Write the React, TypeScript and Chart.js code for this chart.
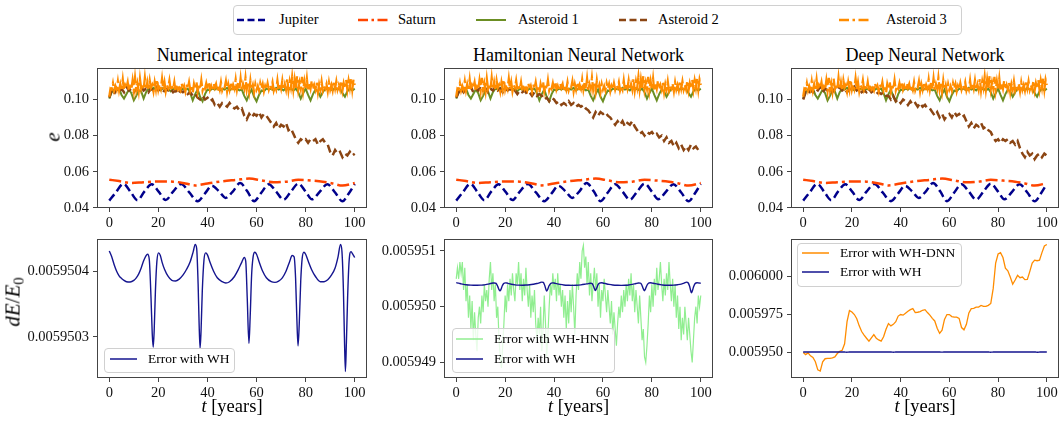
import React, { useEffect, useRef } from 'react';
import { Chart, registerables } from 'chart.js';

Chart.register(...registerables);

const FONT = "'Liberation Serif', 'Times New Roman', serif";
Chart.defaults.font.family = FONT;

// ---------------- data ----------------
const years = [0,1,2,3,4,5,6,7,8,9,10,11,12,13,14,15,16,17,18,19,20,21,22,23,24,25,26,27,28,29,30,31,32,33,34,35,36,37,38,39,40,41,42,43,44,45,46,47,48,49,50,51,52,53,54,55,56,57,58,59,60,61,62,63,64,65,66,67,68,69,70,71,72,73,74,75,76,77,78,79,80,81,82,83,84,85,86,87,88,89,90,91,92,93,94,95,96,97,98,99,100];

const halfYears = [
  0,0.5,1,1.5,2,2.5,3,3.5,4,4.5,5,5.5,6,6.5,7,7.5,8,8.5,9,9.5,
  10,10.5,11,11.5,12,12.5,13,13.5,14,14.5,15,15.5,16,16.5,17,17.5,18,18.5,19,19.5,
  20,20.5,21,21.5,22,22.5,23,23.5,24,24.5,25,25.5,26,26.5,27,27.5,28,28.5,29,29.5,
  30,30.5,31,31.5,32,32.5,33,33.5,34,34.5,35,35.5,36,36.5,37,37.5,38,38.5,39,39.5,
  40,40.5,41,41.5,42,42.5,43,43.5,44,44.5,45,45.5,46,46.5,47,47.5,48,48.5,49,49.5,
  50,50.5,51,51.5,52,52.5,53,53.5,54,54.5,55,55.5,56,56.5,57,57.5,58,58.5,59,59.5,
  60,60.5,61,61.5,62,62.5,63,63.5,64,64.5,65,65.5,66,66.5,67,67.5,68,68.5,69,69.5,
  70,70.5,71,71.5,72,72.5,73,73.5,74,74.5,75,75.5,76,76.5,77,77.5,78,78.5,79,79.5,
  80,80.5,81,81.5,82,82.5,83,83.5,84,84.5,85,85.5,86,86.5,87,87.5,88,88.5,89,89.5,
  90,90.5,91,91.5,92,92.5,93,93.5,94,94.5,95,95.5,96,96.5,97,97.5,98,98.5,99,99.5,
  100];

const jupiterT = [0,2.5,5.8,8.8,11.5,14.3,17.3,20.2,23,26,29.3,32.6,36,39,41.8,44.8,47.4,50.3,53.3,56.3,59,62,65,68,71,74,77,80,82.6,85.8,88.8,92,95,97.5,100];
const jupiterE = [0.0440,0.0482,0.0533,0.0485,0.0442,0.0490,0.0530,0.0488,0.0443,0.0490,0.0532,0.0485,0.0437,0.0480,0.0522,0.0490,0.0455,0.0490,0.0537,0.0490,0.0437,0.0485,0.0531,0.0490,0.0445,0.0490,0.0534,0.0490,0.0447,0.0490,0.0531,0.0485,0.0436,0.0478,0.0532];

const saturnT = [0,4,9,14,20,26,31,35,40,46,52,57,62,67,72,77,82,87,91,95,100];
const saturnE = [0.0556,0.0548,0.0537,0.0542,0.0546,0.0545,0.0535,0.0524,0.0535,0.0547,0.0555,0.0562,0.0552,0.0541,0.0545,0.0555,0.0551,0.0545,0.0535,0.0523,0.0537];

const asteroid1E = [
  0.1005,0.104,0.1055,0.105,0.106,0.1025,0.1005,0.103,0.1055,0.1035,
  0.0995,0.102,0.105,0.1045,0.1005,0.104,0.106,0.1055,0.1065,0.1055,
  0.106,0.105,0.1065,0.1055,0.106,0.1045,0.106,0.1055,0.1065,0.105,
  0.106,0.1055,0.106,0.1035,0.0995,0.103,0.1055,0.1015,0.099,0.103,
  0.1055,0.105,0.106,0.1055,0.1065,0.105,0.106,0.1055,0.1065,0.105,
  0.106,0.1055,0.106,0.105,0.1055,0.102,0.0995,0.103,0.1055,0.1015,
  0.099,0.1025,0.105,0.1045,0.106,0.1055,0.106,0.105,0.1065,0.1055,
  0.106,0.105,0.1065,0.1055,0.106,0.105,0.106,0.104,0.1005,0.1035,
  0.106,0.1025,0.0995,0.103,0.1055,0.1045,0.1015,0.104,0.106,0.1055,
  0.106,0.105,0.1065,0.1055,0.106,0.1035,0.1015,0.1045,0.106,0.105,
  0.106];

const asteroid3E = [
  0.1015,0.106,0.1055,0.109,0.105,0.1075,0.1055,0.11,0.105,0.1085,
  0.1055,0.111,0.105,0.108,0.1065,0.1095,0.1045,0.107,0.1055,0.1105,
  0.105,0.112,0.1055,0.109,0.1045,0.1115,0.106,0.1085,0.1055,0.112,
  0.1055,0.1095,0.105,0.1105,0.1065,0.108,0.1045,0.1095,0.1055,0.111,
  0.1055,0.1085,0.106,0.1115,0.1055,0.1095,0.1045,0.108,0.1065,0.1105,
  0.1055,0.1075,0.1055,0.1095,0.1045,0.1085,0.1055,0.1065,0.105,0.109,
  0.1055,0.1075,0.1045,0.1085,0.106,0.1095,0.105,0.107,0.1035,0.1085,
  0.1055,0.11,0.1045,0.108,0.1055,0.1105,0.105,0.1075,0.106,0.109,
  0.1055,0.11,0.1055,0.1075,0.105,0.109,0.1065,0.1085,0.1045,0.108,
  0.1055,0.1095,0.105,0.107,0.1065,0.11,0.1045,0.1085,0.1055,0.1095,
  0.105,0.108,0.106,0.111,0.1055,0.1095,0.1055,0.1115,0.105,0.1085,
  0.106,0.112,0.1055,0.1095,0.1045,0.1105,0.1055,0.108,0.104,0.1085,
  0.1055,0.1075,0.105,0.109,0.106,0.1085,0.1045,0.1075,0.1055,0.109,
  0.1055,0.108,0.1065,0.1095,0.105,0.1075,0.1055,0.1105,0.105,0.109,
  0.106,0.1105,0.1055,0.1085,0.1055,0.1115,0.105,0.11,0.1065,0.1125,
  0.1055,0.111,0.1055,0.113,0.1055,0.1095,0.106,0.1125,0.105,0.11,
  0.1055,0.1115,0.1045,0.109,0.106,0.1105,0.1055,0.108,0.1055,0.1095,
  0.104,0.1085,0.1055,0.11,0.105,0.1075,0.106,0.1085,0.1045,0.1095,
  0.1055,0.108,0.105,0.1095,0.106,0.11,0.1055,0.108,0.1055,0.1105,
  0.105,0.109,0.106,0.111,0.1055,0.1105,0.1065,0.112,0.1055,0.111,
  0.108];

const asteroid2Numerical = [
  0.101,0.105,0.103,0.106,0.104,0.106,0.104,0.107,0.105,0.106,
  0.104,0.106,0.105,0.107,0.105,0.106,0.104,0.106,0.105,0.107,
  0.105,0.106,0.104,0.106,0.105,0.106,0.104,0.105,0.103,0.105,
  0.104,0.105,0.103,0.104,0.102,0.103,0.101,0.1,0.102,0.1,
  0.101,0.099,0.1,0.097,0.098,0.096,0.098,0.097,0.096,0.098,
  0.096,0.095,0.096,0.094,0.095,0.091,0.089,0.092,0.09,0.092,
  0.091,0.093,0.09,0.092,0.091,0.089,0.087,0.085,0.087,0.084,
  0.086,0.085,0.087,0.083,0.084,0.081,0.078,0.076,0.078,0.077,
  0.078,0.076,0.078,0.077,0.078,0.075,0.077,0.078,0.076,0.075,
  0.071,0.069,0.072,0.07,0.071,0.068,0.07,0.069,0.071,0.069,
  0.07];

const asteroid2HNN = [
  0.101,0.104,0.106,0.104,0.106,0.105,0.107,0.104,0.106,0.105,
  0.107,0.105,0.106,0.104,0.106,0.105,0.107,0.105,0.106,0.104,
  0.106,0.105,0.106,0.104,0.105,0.103,0.105,0.104,0.105,0.103,
  0.104,0.102,0.104,0.102,0.103,0.102,0.1,0.101,0.099,0.101,
  0.1,0.098,0.099,0.097,0.098,0.097,0.099,0.097,0.098,0.096,
  0.097,0.096,0.097,0.095,0.094,0.092,0.09,0.093,0.091,0.093,
  0.092,0.093,0.091,0.09,0.088,0.086,0.088,0.086,0.088,0.085,
  0.087,0.086,0.088,0.085,0.083,0.081,0.082,0.08,0.082,0.081,
  0.082,0.08,0.081,0.079,0.08,0.077,0.079,0.076,0.077,0.074,
  0.076,0.073,0.075,0.072,0.074,0.072,0.075,0.073,0.074,0.072,
  0.073];

const asteroid2DNN = [
  0.1,0.104,0.103,0.105,0.104,0.106,0.105,0.107,0.104,0.106,
  0.105,0.106,0.104,0.106,0.105,0.107,0.105,0.106,0.104,0.106,
  0.105,0.107,0.105,0.106,0.104,0.105,0.104,0.106,0.104,0.105,
  0.103,0.104,0.103,0.104,0.102,0.102,0.1,0.102,0.099,0.1,
  0.098,0.1,0.099,0.097,0.099,0.097,0.098,0.096,0.098,0.096,
  0.097,0.095,0.095,0.093,0.091,0.093,0.09,0.092,0.089,0.091,
  0.092,0.09,0.093,0.091,0.092,0.09,0.091,0.088,0.085,0.087,
  0.084,0.086,0.085,0.087,0.084,0.085,0.083,0.082,0.079,0.077,
  0.078,0.076,0.078,0.077,0.078,0.076,0.077,0.075,0.077,0.073,
  0.07,0.068,0.071,0.069,0.07,0.067,0.069,0.07,0.068,0.07,
  0.069];

const whT = [0,1,2,3,4,5,6,7,8.5,10,11,12,13,14,15,15.6,16.3,17,17.5,17.9,18.3,18.8,19.4,20.1,20.8,21.5,22.5,24,25.5,27,28.5,30,31.5,33,34.2,35,35.6,36.2,36.6,37,37.4,37.9,38.6,39.3,40,41,42.5,44,46,47.5,49,51,52.5,54,55,55.6,56.2,56.9,57.4,58,58.6,59.3,60,61,62.5,64,66,67.5,69,70.5,72,73.5,74.5,75.3,75.9,76.4,76.9,77.4,78,78.6,79.3,80,81,82.5,84,86,87.5,89,90.5,92,93.2,94.2,94.8,95.4,95.8,96.2,96.6,97.1,97.7,98.5,99.2,100];
const whErr = [0.005950431,0.005950422,0.00595041,0.0059504,0.005950393,0.005950389,0.005950386,0.005950384,0.0059503835,0.005950386,0.00595039,0.005950396,0.005950405,0.005950416,0.005950424,0.005950426,0.005950418,0.00595036,0.005950305,0.005950284,0.00595031,0.00595037,0.005950415,0.005950428,0.005950424,0.005950414,0.005950403,0.005950392,0.005950386,0.005950385,0.005950388,0.005950394,0.005950403,0.005950415,0.00595043,0.005950441,0.005950435,0.00595038,0.00595032,0.005950282,0.00595031,0.00595037,0.005950418,0.005950428,0.005950425,0.005950414,0.0059504,0.00595039,0.005950384,0.005950382,0.005950384,0.005950392,0.005950402,0.005950414,0.005950421,0.005950415,0.00595036,0.00595029,0.00595033,0.005950395,0.005950422,0.005950429,0.005950426,0.005950415,0.0059504,0.00595039,0.005950384,0.005950383,0.005950385,0.00595039,0.0059504,0.005950415,0.005950424,0.005950422,0.00595039,0.00595033,0.005950286,0.00595032,0.005950385,0.00595042,0.005950429,0.005950426,0.005950416,0.005950402,0.005950392,0.005950384,0.005950384,0.005950387,0.005950394,0.005950405,0.005950422,0.005950441,0.00595043,0.00595037,0.0059503,0.005950247,0.00595029,0.00595036,0.005950415,0.00595043,0.005950426,0.005950421];

const hnnErr = [
  0.0059505,0.0059507,0.0059505,0.0059508,0.0059506,0.0059508,0.0059503,0.0059507,0.0059501,0.0059504,
  0.0059498,0.0059502,0.0059496,0.0059501,0.0059494,0.0059499,0.0059495,0.0059492,0.0059498,0.00595,
  0.0059497,0.0059502,0.0059499,0.0059504,0.0059501,0.0059503,0.00595,0.0059505,0.0059508,0.0059503,
  0.0059506,0.0059501,0.0059504,0.0059498,0.00595,0.0059494,0.0059491,0.0059489,0.0059493,0.0059497,
  0.0059502,0.0059499,0.0059504,0.0059501,0.0059505,0.0059502,0.0059506,0.0059503,0.0059501,0.0059506,
  0.0059504,0.0059508,0.0059503,0.0059506,0.0059501,0.0059505,0.0059502,0.0059507,0.0059503,0.00595,
  0.0059504,0.0059498,0.0059502,0.0059499,0.0059503,0.0059497,0.0059494,0.0059498,0.0059495,0.00595,
  0.0059492,0.0059496,0.0059502,0.0059497,0.0059491,0.0059495,0.00595,0.0059504,0.0059502,0.0059506,
  0.0059503,0.0059505,0.0059501,0.0059506,0.0059502,0.0059504,0.00595,0.0059503,0.0059498,0.0059502,
  0.0059496,0.0059501,0.0059497,0.0059503,0.0059499,0.0059504,0.00595,0.0059495,0.0059502,0.0059506,
  0.0059503,0.0059508,0.0059505,0.005951,0.0059511,0.0059507,0.0059509,0.0059504,0.0059508,0.0059502,
  0.0059506,0.0059501,0.0059504,0.0059507,0.0059503,0.0059506,0.00595,0.0059504,0.0059498,0.0059503,
  0.0059501,0.0059505,0.0059502,0.0059499,0.0059503,0.00595,0.0059497,0.0059501,0.0059495,0.0059499,
  0.0059496,0.0059493,0.0059497,0.00595,0.0059498,0.0059502,0.0059499,0.0059503,0.00595,0.0059504,
  0.0059501,0.0059505,0.0059502,0.0059506,0.0059501,0.0059504,0.0059499,0.0059503,0.00595,0.0059497,
  0.0059502,0.0059498,0.0059494,0.0059496,0.0059491,0.005949,0.0059493,0.0059497,0.0059502,0.0059499,
  0.0059504,0.00595,0.0059505,0.0059502,0.0059507,0.0059503,0.0059505,0.0059508,0.0059504,0.0059501,
  0.0059505,0.0059502,0.0059506,0.0059503,0.0059508,0.0059504,0.0059501,0.0059505,0.00595,0.0059504,
  0.0059498,0.0059502,0.0059496,0.00595,0.0059494,0.0059498,0.0059495,0.00595,0.0059497,0.0059494,
  0.0059498,0.0059495,0.0059492,0.005949,0.0059494,0.0059498,0.00595,0.0059497,0.0059502,0.00595,
  0.0059502];

const dnnErr = [
  0.00595,0.0059487,0.0059498,0.0059479,0.0059468,0.005944,0.0059387,0.0059379,0.005944,0.005946,
  0.0059462,0.0059462,0.0059466,0.0059472,0.0059494,0.0059509,0.0059515,0.0059558,0.0059702,0.0059775,
  0.0059766,0.0059749,0.0059722,0.0059675,0.0059638,0.0059615,0.0059594,0.0059575,0.0059596,0.0059617,
  0.0059594,0.0059583,0.0059575,0.0059604,0.0059653,0.005969,0.0059675,0.0059685,0.0059702,0.0059739,
  0.0059749,0.0059745,0.0059758,0.005977,0.0059781,0.0059788,0.0059762,0.0059764,0.0059768,0.0059777,
  0.0059781,0.0059762,0.0059745,0.0059724,0.0059707,0.005966,0.0059626,0.0059647,0.0059717,0.0059749,
  0.0059749,0.0059736,0.0059732,0.0059732,0.0059724,0.0059664,0.0059649,0.0059685,0.005976,0.0059788,
  0.005979,0.0059798,0.0059798,0.0059809,0.0059802,0.0059802,0.0059809,0.0059822,0.005992,0.0060086,
  0.0060145,0.0060154,0.0060122,0.0060052,0.0060035,0.0059994,0.0059947,0.0059975,0.0060005,0.005999,
  0.0059994,0.0059977,0.0059979,0.006003,0.0060086,0.0060105,0.0060101,0.0060105,0.0060154,0.0060197,
  0.0060207];

const xTicks = [0, 20, 40, 60, 80, 100];
const xTickLabels = ['0', '20', '40', '60', '80', '100'];
const eTicks = [0.04, 0.06, 0.08, 0.1];
const eTickLabels = ['0.04', '0.06', '0.08', '0.10'];
const whTicks = [0.0059503, 0.0059504];
const whTickLabels = ['0.0059503', '0.0059504'];
const hnnTicks = [0.005949, 0.00595, 0.005951];
const hnnTickLabels = ['0.005949', '0.005950', '0.005951'];
const dnnTicks = [0.00595, 0.005975, 0.006];
const dnnTickLabels = ['0.005950', '0.005975', '0.006000'];

const panelTitles = ['Numerical integrator', 'Hamiltonian Neural Network', 'Deep Neural Network'];
const bodyNames = ['Jupiter', 'Saturn', 'Asteroid 1', 'Asteroid 2', 'Asteroid 3'];

// ---------------- styles / layout ----------------
const C_JUP = '#00008B';
const C_SAT = '#FF4500';
const C_A1 = '#6B8E23';
const C_A2 = '#8B4513';
const C_A3 = '#FF8C00';
const C_WH = '#15158f';
const C_HNN = '#90EE90';
const C_DNN = '#FF8C00';
const DASH = [8, 4];
const DASHDOT = [12, 4, 3, 4];

const PLOT_L = [97, 444, 791];
const PLOT_R = [367, 713, 1059];
const TOP_ROW = { top: 65, bottom: 208 };
const BOT_ROW = { top: 236, bottom: 378 };
const Y_AXIS_W = 90;
const X_AXIS_H = 28;
const PAD_TOP = 10;
const PAD_RIGHT = 12;
const AXIS_COLOR = '#444';
const TICK_FONT = 14.5;

const pts = (xs: number[], ys: number[]) => xs.map((x, i) => ({ x, y: ys[i] }));

const framePlugin = {
  id: 'frame',
  afterDraw(chart: any) {
    const { ctx, chartArea } = chart;
    const l = Math.round(chartArea.left) + 0.5;
    const t = Math.round(chartArea.top) + 0.5;
    const r = Math.round(chartArea.right) - 0.5;
    const b = Math.round(chartArea.bottom) - 0.5;
    ctx.save();
    ctx.strokeStyle = AXIS_COLOR;
    ctx.lineWidth = 1;
    ctx.strokeRect(l, t, r - l, b - t);
    ctx.restore();
  },
};

type PanelProps = {
  col: number;
  row: { top: number; bottom: number };
  yMin: number;
  yMax: number;
  yTicks: number[];
  yLabels: string[];
  makeDatasets: () => any[];
};

function Panel({ col, row, yMin, yMax, yTicks, yLabels, makeDatasets }: PanelProps) {
  const ref = useRef<HTMLCanvasElement | null>(null);
  const plotW = PLOT_R[col] - PLOT_L[col];
  const plotH = row.bottom - row.top;
  const w = Y_AXIS_W + plotW + PAD_RIGHT;
  const h = PAD_TOP + plotH + X_AXIS_H;

  useEffect(() => {
    if (!ref.current) return;
    const tickFont = { family: FONT, size: TICK_FONT };
    const chart = new Chart(ref.current, {
      type: 'line',
      data: { datasets: makeDatasets() },
      options: {
        responsive: false,
        animation: false,
        devicePixelRatio: 1,
        layout: { padding: { top: PAD_TOP, right: PAD_RIGHT, left: 0, bottom: 0 } },
        plugins: { legend: { display: false }, tooltip: { enabled: false }, title: { display: false } },
        elements: { point: { radius: 0, hoverRadius: 0 }, line: { fill: false } },
        scales: {
          x: {
            type: 'linear',
            min: -5,
            max: 105,
            bounds: 'data',
            afterFit: (s: any) => { s.height = X_AXIS_H; },
            afterBuildTicks: (s: any) => { s.ticks = xTicks.map((v) => ({ value: v })); },
            ticks: {
              autoSkip: false,
              maxRotation: 0,
              padding: 2,
              color: '#111',
              font: tickFont,
              callback: (_v: any, i: number) => xTickLabels[i],
            },
            grid: { drawOnChartArea: false, drawTicks: true, tickLength: 4, tickColor: AXIS_COLOR, color: AXIS_COLOR },
            border: { display: false },
          },
          y: {
            type: 'linear',
            min: yMin,
            max: yMax,
            bounds: 'data',
            afterFit: (s: any) => { s.width = Y_AXIS_W; },
            afterBuildTicks: (s: any) => { s.ticks = yTicks.map((v) => ({ value: v })); },
            ticks: {
              autoSkip: false,
              padding: 4,
              color: '#111',
              font: tickFont,
              callback: (_v: any, i: number) => yLabels[i],
            },
            grid: { drawOnChartArea: false, drawTicks: true, tickLength: 4, tickColor: AXIS_COLOR, color: AXIS_COLOR },
            border: { display: false },
          },
        },
      } as any,
      plugins: [framePlugin],
    });
    return () => chart.destroy();
  }, []);

  return (
    <canvas
      ref={ref}
      width={w}
      height={h}
      style={{ position: 'absolute', left: PLOT_L[col] - Y_AXIS_W, top: row.top - PAD_TOP, width: w, height: h }}
    />
  );
}

const topDatasets = (ast2: number[]) => () => [
  { data: pts(halfYears, asteroid3E), borderColor: C_A3, borderWidth: 2.3, borderDash: DASHDOT, order: 0 },
  { data: pts(years, ast2), borderColor: C_A2, borderWidth: 2.5, borderDash: DASH, order: 1 },
  { data: pts(years, asteroid1E), borderColor: C_A1, borderWidth: 2, order: 2 },
  { data: pts(saturnT, saturnE), borderColor: C_SAT, borderWidth: 2.5, borderDash: DASHDOT, cubicInterpolationMode: 'monotone', order: 3 },
  { data: pts(jupiterT, jupiterE), borderColor: C_JUP, borderWidth: 2.5, borderDash: DASH, cubicInterpolationMode: 'monotone', order: 4 },
];

const whDataset = (order: number) => ({
  data: pts(whT, whErr), borderColor: C_WH, borderWidth: 1.4, cubicInterpolationMode: 'monotone', order,
});

function Line({ x, y, w, color, lw, dash }: { x: number; y: number; w: number; color: string; lw: number; dash?: number[] }) {
  return (
    <svg style={{ position: 'absolute', left: x, top: y - 5, width: w, height: 10, overflow: 'visible' }} width={w} height={10}>
      <line x1={0} y1={5} x2={w} y2={5} stroke={color} strokeWidth={lw} strokeDasharray={dash ? dash.join(' ') : undefined} />
    </svg>
  );
}

function Txt({ x, top, size, children, center }: { x: number; top: number; size: number; children: any; center?: boolean }) {
  return (
    <div
      style={{
        position: 'absolute', left: x, top, fontSize: size, lineHeight: `${size}px`, whiteSpace: 'nowrap',
        color: '#000', transform: center ? 'translateX(-50%)' : undefined,
      }}
    >
      {children}
    </div>
  );
}

function RotTxt({ cx, cy, size, children }: { cx: number; cy: number; size: number; children: any }) {
  return (
    <div
      style={{
        position: 'absolute', left: cx, top: cy, fontSize: size, lineHeight: `${size}px`, whiteSpace: 'nowrap',
        color: '#000', transform: 'translate(-50%, -50%) rotate(-90deg)',
      }}
    >
      {children}
    </div>
  );
}

const boxStyle = (x: number, y: number, w: number, h: number, bg: string) => ({
  position: 'absolute' as const, left: x, top: y, width: w, height: h, boxSizing: 'border-box' as const,
  border: '1px solid #d0d0d0', borderRadius: 4, background: bg,
});

export default function App() {
  const centers = [0, 1, 2].map((c) => (PLOT_L[c] + PLOT_R[c]) / 2);
  const legendLines = [
    { x: 237, color: C_JUP, lw: 2.5, dash: [7, 3.5] },
    { x: 358, color: C_SAT, lw: 2.5, dash: [10, 3.5, 2.5, 3.5] },
    { x: 476, color: C_A1, lw: 2, dash: undefined },
    { x: 619, color: C_A2, lw: 2.5, dash: [7, 3.5] },
    { x: 839, color: C_A3, lw: 2.5, dash: [10, 3.5, 2.5, 3.5] },
  ];
  const legendTextX = [279, 398, 518, 658, 886];

  return (
    <div style={{ position: 'fixed', left: 0, top: 0, width: 1060, height: 421, background: '#fff', fontFamily: FONT, overflow: 'hidden' }}>
      {/* top legend */}
      <div style={boxStyle(233, 5, 729, 30, '#fff')} />
      {legendLines.map((l, i) => (
        <Line key={'ll' + i} x={l.x} y={19.5} w={30} color={l.color} lw={l.lw} dash={l.dash} />
      ))}
      {bodyNames.map((n, i) => (
        <Txt key={'lt' + i} x={legendTextX[i]} top={12} size={14.5}>{n}</Txt>
      ))}

      {/* titles */}
      {panelTitles.map((t, i) => (
        <Txt key={'t' + i} x={centers[i]} top={45.5} size={18} center>{t}</Txt>
      ))}

      {/* top row */}
      <Panel col={0} row={TOP_ROW} yMin={0.0399} yMax={0.1176} yTicks={eTicks} yLabels={eTickLabels} makeDatasets={topDatasets(asteroid2Numerical)} />
      <Panel col={1} row={TOP_ROW} yMin={0.0399} yMax={0.1176} yTicks={eTicks} yLabels={eTickLabels} makeDatasets={topDatasets(asteroid2HNN)} />
      <Panel col={2} row={TOP_ROW} yMin={0.0399} yMax={0.1176} yTicks={eTicks} yLabels={eTickLabels} makeDatasets={topDatasets(asteroid2DNN)} />

      {/* bottom row */}
      <Panel col={0} row={BOT_ROW} yMin={0.005950237} yMax={0.0059504497} yTicks={whTicks} yLabels={whTickLabels}
        makeDatasets={() => [whDataset(0)]} />
      <Panel col={1} row={BOT_ROW} yMin={0.00594872} yMax={0.00595122} yTicks={hnnTicks} yLabels={hnnTickLabels}
        makeDatasets={() => [
          whDataset(0),
          { data: pts(halfYears, hnnErr), borderColor: C_HNN, borderWidth: 1.2, order: 1 },
        ]} />
      <Panel col={2} row={BOT_ROW} yMin={0.0059334} yMax={0.0060245} yTicks={dnnTicks} yLabels={dnnTickLabels}
        makeDatasets={() => [
          whDataset(0),
          { data: pts(years, dnnErr), borderColor: C_DNN, borderWidth: 1.3, order: 1 },
        ]} />

      {/* axis labels */}
      <RotTxt cx={53} cy={137} size={21}><i>e</i></RotTxt>
      <RotTxt cx={14} cy={302} size={21}>
        <span><i>dE</i>/<i>E</i><span style={{ fontSize: '70%', position: 'relative', top: '0.3em' }}>0</span></span>
      </RotTxt>
      {centers.map((c, i) => (
        <Txt key={'xl' + i} x={c} top={396.5} size={18.5} center><i>t</i> [years]</Txt>
      ))}

      {/* bottom legends */}
      <div style={boxStyle(104, 348, 131, 25, 'rgba(255,255,255,0.8)')} />
      <Line x={110} y={358.5} w={27} color={C_WH} lw={1.5} />
      <Txt x={148} top={351.5} size={13.5}>Error with WH</Txt>

      <div style={boxStyle(452, 328, 163, 45, 'rgba(255,255,255,0.8)')} />
      <Line x={456} y={339} w={27} color={C_HNN} lw={1.5} />
      <Txt x={494} top={332} size={13.5}>Error with WH-HNN</Txt>
      <Line x={456} y={358.5} w={27} color={C_WH} lw={1.5} />
      <Txt x={494} top={351.5} size={13.5}>Error with WH</Txt>

      <div style={boxStyle(797, 243, 165, 44, 'rgba(255,255,255,0.8)')} />
      <Line x={802} y={252.5} w={27} color={C_DNN} lw={1.5} />
      <Txt x={840} top={245.5} size={13.5}>Error with WH-DNN</Txt>
      <Line x={802} y={272} w={27} color={C_WH} lw={1.5} />
      <Txt x={840} top={265} size={13.5}>Error with WH</Txt>
    </div>
  );
}
